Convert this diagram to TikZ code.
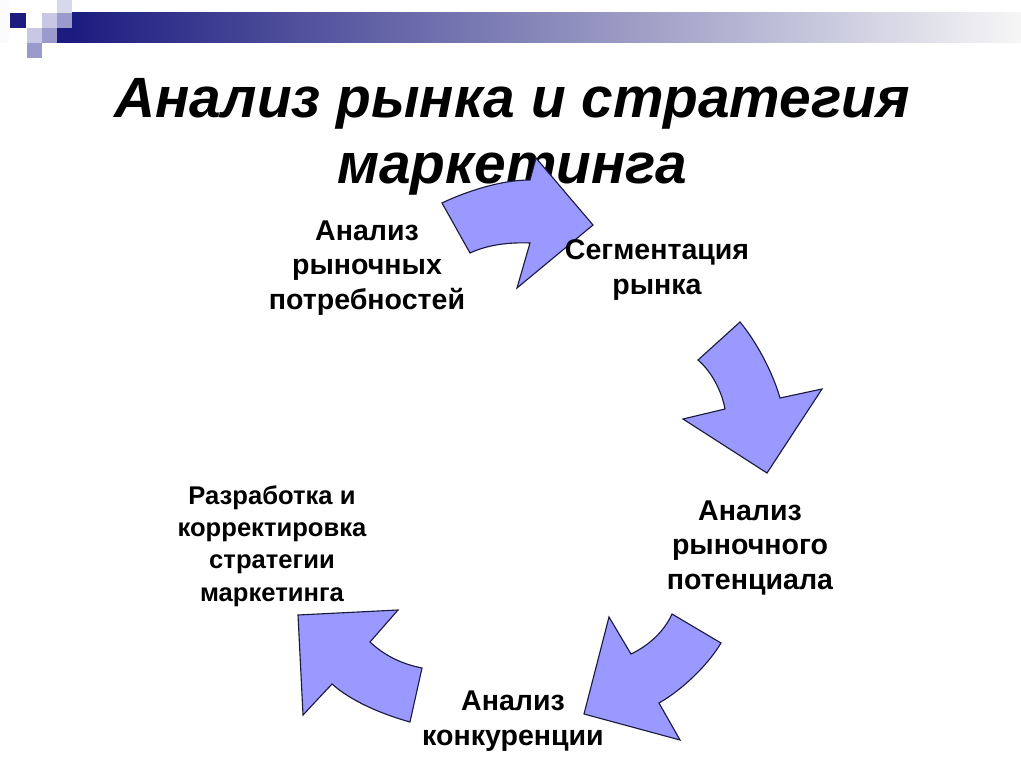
\documentclass[tikz,border=0pt]{standalone}
\usepackage{fontspec}
\setmainfont{Liberation Sans}
\definecolor{arrowblue}{HTML}{9999FF}
\definecolor{arrowline}{HTML}{1A1A40}
\definecolor{barnavy}{HTML}{1C1C80}
\definecolor{barwhite}{HTML}{F6F6F6}
\definecolor{pixlight}{HTML}{C8C8E4}
\definecolor{pixmid}{HTML}{9A9ACC}

\begin{document}
\begin{tikzpicture}[x=0.025cm,y=-0.025cm]
			\tikzset{stage/.style = {align=center, inner sep=0pt, font=\fontsize{20.3}{24.5}\selectfont\bfseries}}
			\tikzset{smallstage/.style = {stage, font=\fontsize{18.2}{23}\selectfont\bfseries}}
			\tikzset{titletext/.style = {align=center, inner sep=0pt, font=\fontsize{40.4}{47}\selectfont\bfseries\itshape}}
			\tikzset{turn/.style = {fill=arrowblue, draw=arrowline, line width=0.8pt, line join=miter}}
			\useasboundingbox (0,0) rectangle (1021,767);
			\fill[white] (0,0) rectangle (1021,767);
			% header bar
			\fill[white!92!pixlight] (0,0) rectangle (9,43);
			\fill[barnavy] (10,13) rectangle (26,28);
			\fill[pixlight] (27,28) rectangle (42,43);
			\fill[pixmid] (27,43) rectangle (42,58);
			\fill[pixlight] (42,13) rectangle (57,28);
			\fill[pixmid] (42,28) rectangle (57,43);
			\fill[pixlight!70!white] (57,0) rectangle (72,13);
			\fill[pixmid] (57,13) rectangle (72,28);
			\fill[barnavy] (57,28) rectangle (72,43);
			\shade[left color=barnavy, right color=barwhite] (72,13) rectangle (1021,43);
			% title
			\node[titletext] (title) at (512,137) {Анализ рынка и стратегия\\маркетинга};
			% arrows
			\draw[turn] (442,203) .. controls (465,192) and (500,180) .. (530,180)
				-- (536,158) -- (593,225) -- (517,288) -- (530,243)
				.. controls (505,242) and (485,246) .. (470,253) -- cycle;
			\draw[turn] (740,322) .. controls (755,340) and (772,370) .. (780,398)
				-- (822,389) -- (767,473) -- (683,419) -- (725,409)
				.. controls (722,392) and (712,372) .. (698,360) -- cycle;
			\draw[turn] (672,614) -- (721,643) .. controls (708,665) and (682,690) .. (659,703)
				-- (680,740) -- (584,714) -- (609,617) -- (631,654)
				.. controls (650,645) and (665,630) .. cycle;
			\draw[turn] (422,668) -- (410,722) .. controls (378,713) and (350,700) .. (332,684)
				-- (303,715) -- (298,615) -- (398,610) -- (370,642)
				.. controls (385,656) and (402,664) .. cycle;
			% stages
			\node[stage] (needs) at (367,268) {Анализ\\рыночных\\потребностей};
			\node[stage] (segment) at (657,270) {Сегментация\\рынка};
			\node[stage] (potential) at (750,548) {Анализ\\рыночного\\потенциала};
			\node[stage] (rivals) at (513,721) {Анализ\\конкуренции};
			\node[smallstage] (strategy) at (272,546) {Разработка и\\корректировка\\стратегии\\маркетинга};
		\end{tikzpicture}
\end{document}
